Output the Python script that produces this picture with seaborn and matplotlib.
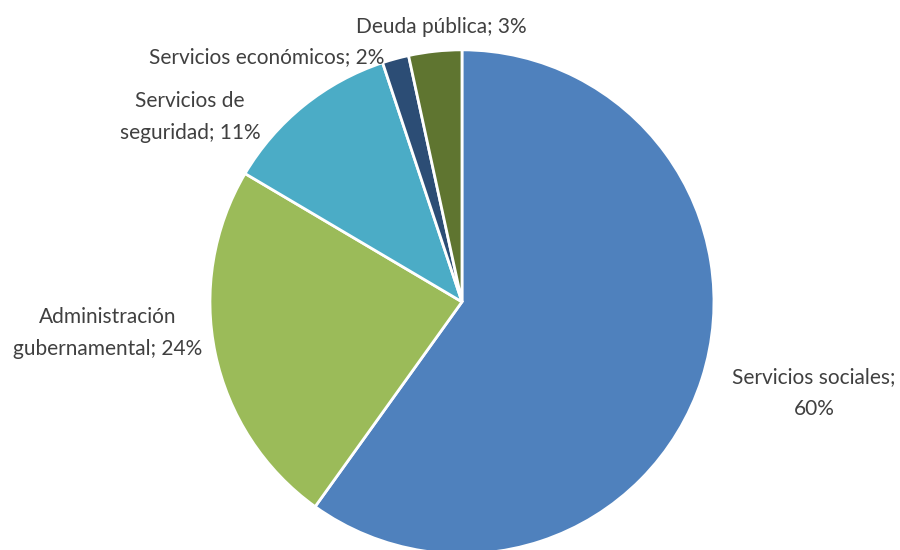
import matplotlib
matplotlib.use("Agg")
import matplotlib.pyplot as plt
import seaborn as sns

categories = ["Servicios sociales", "Administración gubernamental", "Servicios de seguridad",
              "Servicios económicos", "Deuda pública"]
shares = [59.9, 23.6, 11.4, 1.7, 3.4]
label_texts = ["Servicios sociales;\n60%", "Administración\ngubernamental; 24%",
               "Servicios de\nseguridad; 11%", "Servicios económicos; 2%", "Deuda pública; 3%"]

sns.set_theme(style="white")
plt.rcParams["font.family"] = ["Lato", "DejaVu Sans"]
colors = ["#4F81BD", "#9BBB59", "#4BACC6", "#2C4D75", "#5F7530"]

fig = plt.figure(figsize=(9, 5.5), dpi=100)
ax = fig.add_axes([0.2333, -0.007, 0.56, 0.9164])
wedges, _ = ax.pie(shares, colors=colors, startangle=90, counterclock=False,
                   radius=1, wedgeprops=dict(edgecolor="white", linewidth=2))
ax.set_xlim(-1, 1)
ax.set_ylim(-1, 1)
ax.set_aspect("equal")
ax.axis("off")

label_pos = [(1.397, -0.361), (-1.405, -0.123), (-1.079, 0.734),
             (-0.774, 0.972), (-0.083, 1.091)]
for txt, (x, y) in zip(label_texts, label_pos):
    ax.text(x, y, txt, ha="center", va="center", fontsize=15, color="#404040",
            linespacing=1.75, clip_on=False)

fig.savefig("out.png", dpi=100)
